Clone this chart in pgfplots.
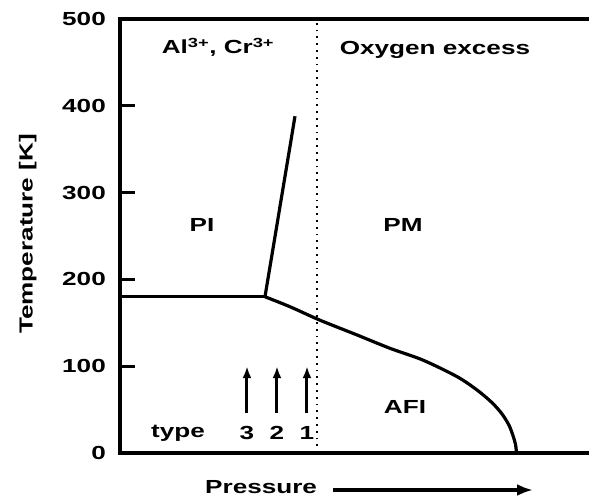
\documentclass[border=0pt]{standalone}
\usepackage{fontspec}
\setmainfont{Liberation Sans}[FakeStretch=1.38]
\usepackage{pgfplots}
\pgfplotsset{compat=1.18}
\usetikzlibrary{arrows.meta}
\begin{document}
\begin{tikzpicture}
\useasboundingbox (-120bp,-50bp) rectangle (469bp,453bp);
\begin{axis}[
  at={(0,0)}, anchor=south west,
  scale only axis, width=480bp, height=434bp,
  xmin=0, xmax=480, ymin=0, ymax=500,
  xtick=\empty,
  ytick={0,100,200,300,400,500},
  ytick pos=left,
  tick align=inside,
  major tick length=14bp,
  every y tick/.style={black, line width=2.8bp},
  axis line style={line width=3.5bp},
  /pgf/number format/assume math mode=true,
  font=\fontsize{19}{21}\selectfont\bfseries,
  yticklabel style={anchor=east, inner sep=0pt, font=\fontsize{19}{21}\selectfont\bfseries},
  yticklabel shift=14bp,
  xlabel={Pressure},
  xlabel style={at={(axis description cs:0.294,0)}, anchor=center, yshift=-34bp},
  ylabel={Temperature [K]},
  ylabel style={at={(axis description cs:-0.192,0.5046)}, anchor=center},
  clip=false,
]
% inward tick marks on the temperature axis
\addplot[black, line width=2.8bp, forget plot] coordinates {(0,100) (15,100)};
\addplot[black, line width=2.8bp, forget plot] coordinates {(0,200) (15,200)};
\addplot[black, line width=2.8bp, forget plot] coordinates {(0,300) (15,300)};
\addplot[black, line width=2.8bp, forget plot] coordinates {(0,400) (15,400)};
% phase boundaries
\addplot[black, line width=3.2bp] coordinates {(0,180) (145,180)};
\addplot[black, line width=3.2bp] coordinates {(145,180) (175,388)};
\addplot[black, line width=3.2bp, smooth] coordinates {
 (145,180) (170,168.5) (200,153) (237,136) (270,120.6) (303,107) (337,88)
 (357,72.6) (372,58) (382,45) (389,32) (393,20) (395.5,10) (396.5,0)};
% dotted divider
\addplot[black, line width=1.8bp, dash pattern=on 1.8bp off 5bp] coordinates {(197,0) (197,500)};
% type arrows
\addplot[black, line width=3bp, -{Latex[length=12bp,width=9bp]}] coordinates {(127,46) (127,100)};
\addplot[black, line width=3bp, -{Latex[length=12bp,width=9bp]}] coordinates {(157,46) (157,100)};
\addplot[black, line width=3bp, -{Latex[length=12bp,width=9bp]}] coordinates {(187,46) (187,100)};
% labels
\node at (axis cs:58,23) {type};
\node at (axis cs:127,23) {3};
\node at (axis cs:157,23) {2};
\node at (axis cs:187,23) {1};
\node at (axis cs:98,467) {Al\textsuperscript{3+}, Cr\textsuperscript{3+}};
\node at (axis cs:315,464) {Oxygen excess};
\node at (axis cs:82,263) {PI};
\node at (axis cs:283,263) {PM};
\node at (axis cs:285,53) {AFI};
\end{axis}
\draw[line width=3.2bp, -{Latex[length=16bp,width=12bp]}] (213bp,-37bp) -- (413bp,-37bp);
\end{tikzpicture}
\end{document}
